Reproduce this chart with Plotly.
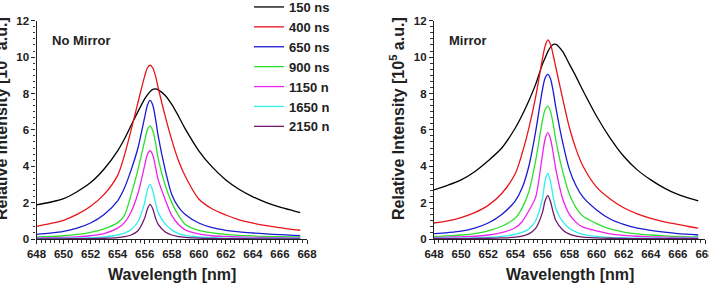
import plotly.graph_objects as go

# Shared wavelength grid (nm)
wavelength = [648, 649, 650, 651, 652, 653, 654, 654.5, 655, 655.5, 656, 656.2, 656.4, 656.6,
              656.8, 657, 657.5, 658, 658.5, 659, 660, 661, 662, 663, 664, 665, 666, 667, 667.5]

labels = ["150 ns", "400 ns", "650 ns", "900 ns", "1150 n", "1650 n", "2150 n"]
colors = ["#000000", "#e8141b", "#1a1ad2", "#2ee02e", "#ee22ee", "#2eeeee", "#6e1a6e"]

# No Mirror panel (10^5 a.u.)
nm_150 = [1.87, 2.02, 2.22, 2.6, 3.1, 3.85, 4.85, 5.5, 6.25, 7.0, 7.7, 7.92, 8.1, 8.22,
          8.25, 8.2, 7.9, 7.4, 6.75, 6.05, 4.85, 3.95, 3.25, 2.72, 2.32, 2.0, 1.75, 1.55, 1.45]
nm_400 = [0.7, 0.85, 1.03, 1.35, 1.8, 2.45, 3.5, 4.6, 6.0, 7.5, 8.95, 9.4, 9.55, 9.4,
          8.95, 8.3, 6.8, 5.45, 4.3, 3.45, 2.2, 1.65, 1.32, 1.05, 0.87, 0.73, 0.62, 0.52, 0.48]
nm_650 = [0.25, 0.32, 0.42, 0.6, 0.88, 1.35, 2.1, 2.8, 3.8, 5.0, 6.7, 7.35, 7.62, 7.35,
          6.6, 5.65, 3.85, 2.45, 1.75, 1.35, 0.88, 0.62, 0.48, 0.39, 0.33, 0.28, 0.24, 0.2, 0.18]
nm_900 = [0.11, 0.14, 0.18, 0.25, 0.37, 0.56, 0.9, 1.3, 2.45, 3.8, 5.4, 6.0, 6.2, 5.95,
          5.3, 4.4, 3.0, 2.0, 1.3, 0.8, 0.48, 0.34, 0.25, 0.2, 0.17, 0.14, 0.13, 0.12, 0.11]
nm_1150 = [0.06, 0.07, 0.09, 0.12, 0.18, 0.3, 0.6, 0.9, 1.5, 2.5, 4.05, 4.65, 4.85, 4.6,
           3.95, 3.25, 2.2, 1.3, 0.8, 0.5, 0.28, 0.18, 0.14, 0.11, 0.09, 0.08, 0.07, 0.06, 0.06]
nm_1650 = [0.03, 0.03, 0.04, 0.05, 0.07, 0.12, 0.22, 0.32, 0.52, 0.95, 2.0, 2.7, 3.0, 2.65,
           2.0, 1.45, 0.85, 0.5, 0.3, 0.2, 0.11, 0.07, 0.05, 0.04, 0.04, 0.03, 0.03, 0.03, 0.03]
nm_2150 = [0.01, 0.01, 0.01, 0.02, 0.02, 0.04, 0.08, 0.13, 0.22, 0.45, 1.15, 1.65, 1.9, 1.65,
           1.15, 0.8, 0.4, 0.22, 0.13, 0.09, 0.05, 0.03, 0.02, 0.02, 0.01, 0.01, 0.01, 0.01, 0.01]

# Mirror panel (10^5 a.u.)
m_150 = [2.7, 2.95, 3.25, 3.7, 4.3, 5.0, 6.1, 6.8, 7.6, 8.5, 9.6, 9.95, 10.3, 10.55,
         10.7, 10.7, 10.3, 9.6, 8.9, 8.15, 6.75, 5.55, 4.55, 3.8, 3.25, 2.8, 2.45, 2.2, 2.1]
m_400 = [0.88, 1.0, 1.18, 1.45, 1.85, 2.5, 3.6, 4.7, 6.1, 7.8, 9.9, 10.6, 10.95, 10.7,
         10.1, 9.4, 7.7, 6.1, 4.9, 4.0, 2.85, 2.2, 1.72, 1.38, 1.13, 0.94, 0.8, 0.66, 0.6]
m_650 = [0.29, 0.35, 0.43, 0.6, 0.88, 1.35, 2.1, 2.8, 4.0, 5.9, 8.2, 8.85, 9.05, 8.8,
         8.1, 7.2, 5.3, 3.8, 2.9, 2.3, 1.6, 1.1, 0.8, 0.6, 0.48, 0.38, 0.3, 0.25, 0.22]
m_900 = [0.14, 0.17, 0.22, 0.3, 0.45, 0.7, 1.15, 1.7, 2.6, 4.3, 6.5, 7.1, 7.3, 7.0,
         6.3, 5.4, 3.7, 2.45, 1.7, 1.25, 0.85, 0.55, 0.38, 0.28, 0.22, 0.17, 0.14, 0.12, 0.11]
m_1150 = [0.08, 0.1, 0.12, 0.15, 0.22, 0.35, 0.62, 0.95, 1.55, 2.3, 4.6, 5.5, 5.85, 5.5,
          4.7, 3.8, 2.2, 1.35, 0.9, 0.65, 0.45, 0.28, 0.2, 0.15, 0.12, 0.1, 0.09, 0.08, 0.08]
m_1650 = [0.04, 0.04, 0.05, 0.06, 0.09, 0.14, 0.25, 0.36, 0.55, 1.0, 2.2, 3.2, 3.6, 3.15,
          2.3, 1.65, 0.95, 0.58, 0.38, 0.26, 0.14, 0.09, 0.07, 0.05, 0.05, 0.04, 0.04, 0.04, 0.04]
m_2150 = [0.02, 0.02, 0.02, 0.03, 0.04, 0.06, 0.1, 0.16, 0.28, 0.58, 1.45, 2.1, 2.38, 2.05,
          1.45, 1.0, 0.5, 0.27, 0.16, 0.1, 0.06, 0.04, 0.03, 0.02, 0.02, 0.02, 0.02, 0.02, 0.02]

x_ticks = [648, 650, 652, 654, 656, 658, 660, 662, 664, 666, 668]
y_ticks = [0, 2, 4, 6, 8, 10, 12]

no_mirror = [nm_150, nm_400, nm_650, nm_900, nm_1150, nm_1650, nm_2150]
mirror = [m_150, m_400, m_650, m_900, m_1150, m_1650, m_2150]

FONT = "Liberation Sans, Arial, sans-serif"
fig = go.Figure()

for i, (lab, col) in enumerate(zip(labels, colors)):
    fig.add_trace(go.Scatter(x=wavelength, y=no_mirror[i], mode="lines", name=lab,
                             line=dict(color=col, width=1.3, shape="spline", smoothing=0.8),
                             xaxis="x", yaxis="y"))
for i, (lab, col) in enumerate(zip(labels, colors)):
    fig.add_trace(go.Scatter(x=wavelength, y=mirror[i], mode="lines", name=lab, showlegend=False,
                             line=dict(color=col, width=1.3, shape="spline", smoothing=0.8),
                             xaxis="x2", yaxis="y2"))

W, H = 709, 286
y_dom = [(H - 239) / H, (H - 20.7) / H]
TICK_FONT = dict(family=FONT, size=11.5, color="#222", weight="bold")

def xax(dom, anchor):
    return dict(domain=dom, anchor=anchor, range=[648, 668], tickvals=x_ticks,
                showline=True, linecolor="#222", linewidth=1.3, mirror=False,
                ticks="outside", ticklen=4, tickwidth=1.2, tickcolor="#222",
                minor=dict(dtick=1 / 3, tick0=648, ticks="outside", ticklen=2.5, tickcolor="#333", tickwidth=1),
                showgrid=False, zeroline=False, tickfont=TICK_FONT, ticklabeloverflow="allow")

def yax(anchor):
    return dict(domain=y_dom, anchor=anchor, range=[0, 12], tickvals=y_ticks,
                showline=True, linecolor="#222", linewidth=1.3,
                ticks="outside", ticklen=4, tickwidth=1.2, tickcolor="#222",
                minor=dict(dtick=1 / 3, tick0=0, ticks="outside", ticklen=2.5, tickcolor="#333", tickwidth=1),
                showgrid=False, zeroline=False, tickfont=TICK_FONT)

fig.update_layout(
    width=W, height=H, margin=dict(l=0, r=0, t=0, b=0, autoexpand=False),
    paper_bgcolor="white", plot_bgcolor="white",
    xaxis=xax([36.5 / W, 307 / W], "y"),
    yaxis=yax("x"),
    xaxis2=xax([434 / W, 705 / W], "y2"),
    yaxis2=yax("x2"),
    showlegend=True,
    legend=dict(x=249 / W, y=1 + 8 / H, xanchor="left", yanchor="top",
                bgcolor="rgba(0,0,0,0)", borderwidth=0, maxheight=400,
                font=dict(family=FONT, size=13, color="#222", weight="bold"),
                itemwidth=30, tracegroupgap=0),
)

ann_font = dict(family=FONT, size=13, color="#222", weight="bold")
title_font = dict(family=FONT, size=16, color="#222", weight="bold")
annotations = [
    dict(text="No Mirror", x=50 / W, y=(H - 40) / H, xref="paper", yref="paper",
         xanchor="left", yanchor="middle", showarrow=False, font=ann_font),
    dict(text="Mirror", x=447 / W, y=(H - 40) / H, xref="paper", yref="paper",
         xanchor="left", yanchor="middle", showarrow=False, font=ann_font),
    dict(text="Wavelength [nm]", x=171.75 / W, y=(H - 274) / H, xref="paper", yref="paper",
         xanchor="center", yanchor="middle", showarrow=False, font=title_font),
    dict(text="Wavelength [nm]", x=569.5 / W, y=(H - 274) / H, xref="paper", yref="paper",
         xanchor="center", yanchor="middle", showarrow=False, font=title_font),
    dict(text="Relative Intensity [10<sup>5</sup> a.u.]", x=0 / W, y=(H - 119) / H,
         xref="paper", yref="paper", xanchor="center", yanchor="middle", textangle=-90,
         showarrow=False, font=title_font),
    dict(text="Relative Intensity [10<sup>5</sup> a.u.]", x=397 / W, y=(H - 119) / H,
         xref="paper", yref="paper", xanchor="center", yanchor="middle", textangle=-90,
         showarrow=False, font=title_font),
]
fig.update_layout(annotations=annotations)

fig.write_html("out.html")
